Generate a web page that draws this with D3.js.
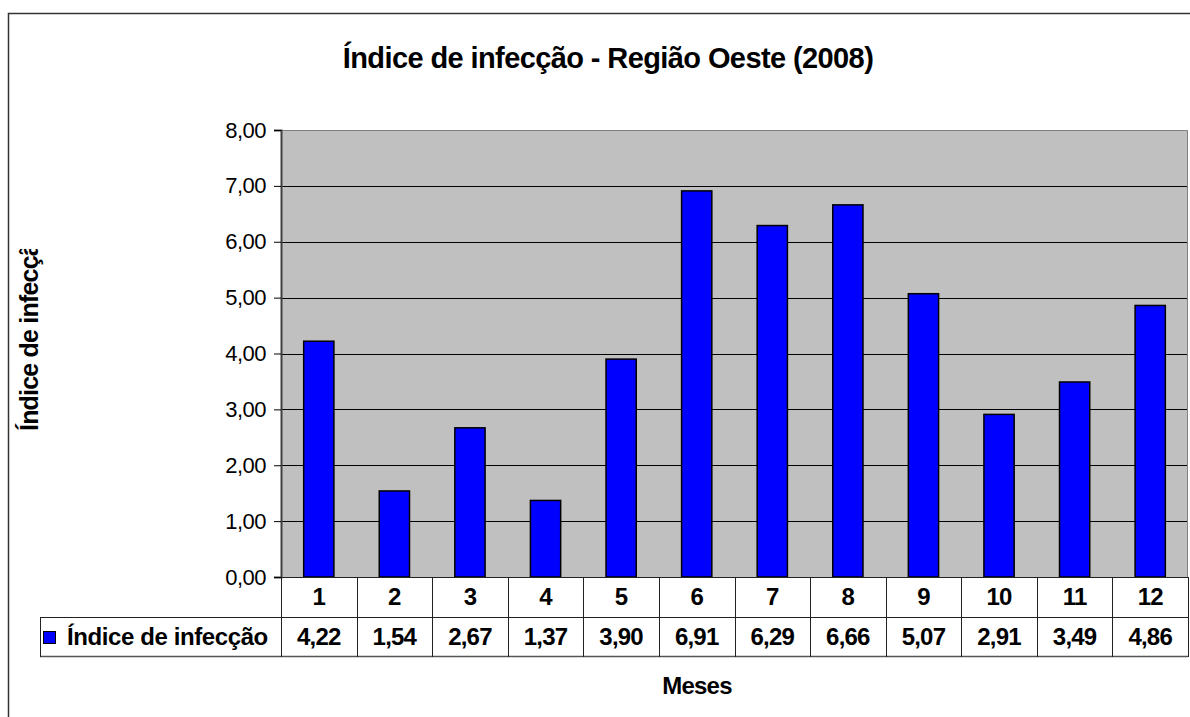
<!DOCTYPE html>
<html>
<head>
<meta charset="utf-8">
<script src="https://cdn.jsdelivr.net/npm/d3@7"></script>
<style>
  body { margin: 0; background: #fff; }
  text { font-family: Arial, "Liberation Sans", sans-serif; }
</style>
</head>
<body>
<svg id="chart" width="1190" height="717"></svg>
<script>
const months = ["1", "2", "3", "4", "5", "6", "7", "8", "9", "10", "11", "12"];
const values = [4.22, 1.54, 2.67, 1.37, 3.90, 6.91, 6.29, 6.66, 5.07, 2.91, 3.49, 4.86];
const yTicks = [0, 1, 2, 3, 4, 5, 6, 7, 8];
const seriesName = "Índice de infecção";
const chartTitle = "Índice de infecção - Região Oeste (2008)";
const xTitle = "Meses";
const yTitle = "Índice de infecção";

const svg = d3.select("#chart");
const fmt = (v) => v.toFixed(2).replace(".", ",");

// plot area
const plotLeft = 281, plotRight = 1188, plotTop = 130, plotBottom = 577;
const rowH = 40;
const legendLeft = 40;

const x = d3.scaleBand().domain(months).range([plotLeft, plotRight]).padding(0);
const y = d3.scaleLinear().domain([0, 8]).range([plotBottom, plotTop]);

// outer frame (cropped on right and bottom)
svg.append("path")
  .attr("d", `M8.5,717 V13.5 H1190`)
  .attr("fill", "none")
  .attr("stroke", "#333")
  .attr("stroke-width", 1.5);

// plot background
svg.append("rect")
  .attr("x", plotLeft).attr("y", plotTop)
  .attr("width", plotRight - plotLeft).attr("height", plotBottom - plotTop)
  .attr("fill", "#C0C0C0");

// gridlines
svg.append("g")
  .selectAll("line")
  .data(yTicks.filter((d) => d > 0 && d < 8))
  .join("line")
  .attr("x1", plotLeft).attr("x2", plotRight)
  .attr("y1", (d) => Math.round(y(d)) + 0.5)
  .attr("y2", (d) => Math.round(y(d)) + 0.5)
  .attr("stroke", "#000")
  .attr("stroke-width", 1);

// top and right border of plot
svg.append("path")
  .attr("d", `M${plotLeft},${plotTop + 0.5} H${plotRight - 0.5} V${plotBottom}`)
  .attr("fill", "none")
  .attr("stroke", "#808080")
  .attr("stroke-width", 1);

// bars
const barW = x.bandwidth() * 0.4;
svg.append("g")
  .selectAll("rect")
  .data(values)
  .join("rect")
  .attr("x", (d, i) => x(months[i]) + (x.bandwidth() - barW) / 2)
  .attr("y", (d) => y(d))
  .attr("width", barW)
  .attr("height", (d) => y(0) - y(d))
  .attr("fill", "#0000FF")
  .attr("stroke", "#000")
  .attr("stroke-width", 1.5);

// y axis
const yAxis = d3.axisLeft(y)
  .tickValues(yTicks)
  .tickSize(7)
  .tickPadding(8)
  .tickFormat(fmt);
const gy = svg.append("g")
  .attr("transform", `translate(${plotLeft},0)`)
  .call(yAxis);
gy.select(".domain").attr("stroke", "#404040").attr("stroke-width", 2);
gy.selectAll(".tick line").attr("stroke", "#000");
gy.selectAll(".tick text")
  .attr("fill", "#000")
  .style("font-size", "22px")
  .style("letter-spacing", "-0.5px")
  .style("font-family", "Arial, 'Liberation Sans', sans-serif");

// data table
const tbl = svg.append("g");
const lineColor = "#222";
tbl.append("line")
  .attr("x1", plotLeft).attr("x2", plotRight)
  .attr("y1", plotBottom + 0.5).attr("y2", plotBottom + 0.5)
  .attr("stroke", lineColor);
tbl.append("line")
  .attr("x1", legendLeft).attr("x2", plotRight)
  .attr("y1", plotBottom + rowH + 0.5).attr("y2", plotBottom + rowH + 0.5)
  .attr("stroke", lineColor);
tbl.append("line")
  .attr("x1", legendLeft).attr("x2", plotRight)
  .attr("y1", plotBottom + 2 * rowH - 0.5).attr("y2", plotBottom + 2 * rowH - 0.5)
  .attr("stroke", "#555").attr("stroke-width", 1.5);
// vertical separators
const seps = months.map((m) => x(m)).concat([plotRight]);
tbl.selectAll("line.sep")
  .data(seps)
  .join("line")
  .attr("class", "sep")
  .attr("x1", (d) => Math.round(d) + 0.5).attr("x2", (d) => Math.round(d) + 0.5)
  .attr("y1", plotBottom).attr("y2", plotBottom + 2 * rowH)
  .attr("stroke", lineColor);
tbl.append("line")
  .attr("x1", legendLeft + 0.5).attr("x2", legendLeft + 0.5)
  .attr("y1", plotBottom + rowH).attr("y2", plotBottom + 2 * rowH)
  .attr("stroke", lineColor);

const cellFont = "24px";

// category labels
tbl.selectAll("text.cat")
  .data(months)
  .join("text")
  .attr("class", "cat")
  .attr("x", (d) => x(d) + x.bandwidth() / 2)
  .attr("y", plotBottom + rowH / 2 + 8)
  .attr("text-anchor", "middle")
  .style("font-size", cellFont)
  .style("font-weight", "bold")
  .style("letter-spacing", "-0.8px")
  .text((d) => d);

// value labels
tbl.selectAll("text.val")
  .data(values)
  .join("text")
  .attr("class", "val")
  .attr("x", (d, i) => x(months[i]) + x.bandwidth() / 2)
  .attr("y", plotBottom + rowH * 1.5 + 8)
  .attr("text-anchor", "middle")
  .style("font-size", cellFont)
  .style("font-weight", "bold")
  .style("letter-spacing", "-0.8px")
  .text(fmt);

// legend key
tbl.append("rect")
  .attr("x", 43.5).attr("y", plotBottom + rowH * 1.5 - 5.5)
  .attr("width", 12).attr("height", 12)
  .attr("fill", "#0000FF")
  .attr("stroke", "#000")
  .attr("stroke-width", 1);
tbl.append("text")
  .attr("x", 67)
  .attr("y", plotBottom + rowH * 1.5 + 8)
  .style("font-size", cellFont)
  .style("font-weight", "bold")
  .style("letter-spacing", "-0.4px")
  .text(seriesName);

// title
svg.append("text")
  .attr("x", 608)
  .attr("y", 68)
  .attr("text-anchor", "middle")
  .style("font-size", "29px")
  .style("font-weight", "bold")
  .style("letter-spacing", "-0.6px")
  .text(chartTitle);

// x title
svg.append("text")
  .attr("x", 697)
  .attr("y", 694)
  .attr("text-anchor", "middle")
  .style("font-size", "24px")
  .style("font-weight", "bold")
  .style("letter-spacing", "-0.8px")
  .text(xTitle);

// y title, clipped like the original
svg.append("clipPath").attr("id", "yclip")
  .append("rect").attr("x", 0).attr("y", 249).attr("width", 60).attr("height", 195);
svg.append("g")
  .attr("clip-path", "url(#yclip)")
  .append("text")
  .attr("transform", "translate(38,431) rotate(-90)")
  .attr("text-anchor", "start")
  .style("font-size", "25px")
  .style("font-weight", "bold")
  .style("letter-spacing", "-0.8px")
  .text(yTitle);
</script>
</body>
</html>
